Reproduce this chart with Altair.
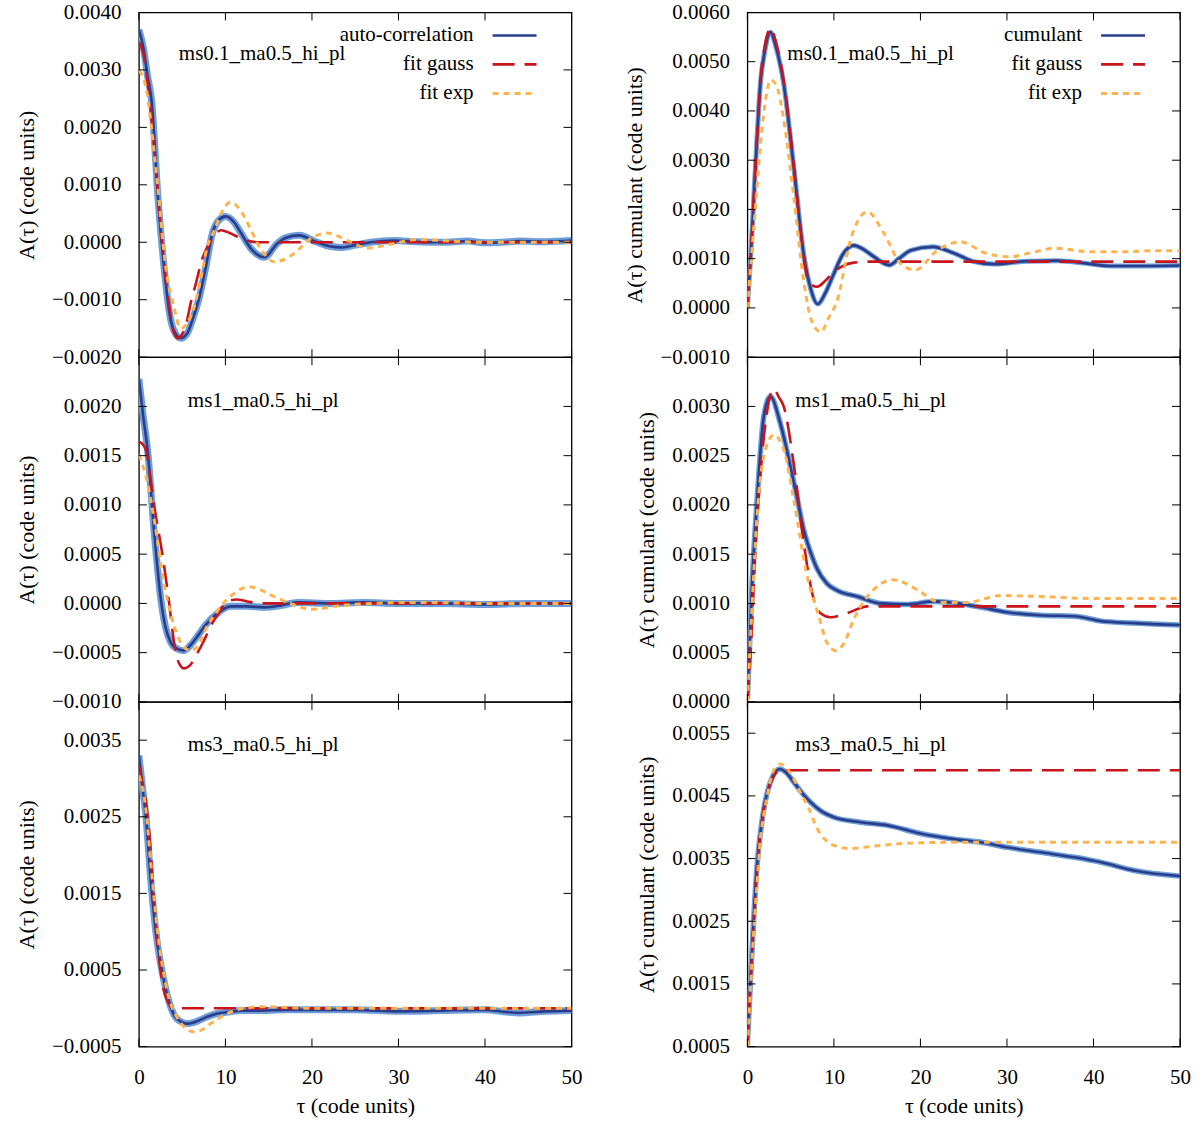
import altair as alt
import pandas as pd

FONT = "Liberation Serif"
FS = 21
DARK = "#2a3d8c"
LIGHT = "#6e9fd8"
RED = "#c9141b"
ORANGE = "#fdb450"

X_TICKS = [0, 10, 20, 30, 40, 50]

# ---------------- top-left: ms0.1 auto-correlation ----------------
tl_data_t = [0, 0.5, 1, 1.46, 2.23, 3.1, 3.5, 4, 4.85, 5.6, 6.3, 7.0, 7.74, 8.5, 9.2, 10, 11, 11.8, 13, 14.5, 16, 17, 18.5, 20.6, 22, 23.5, 25, 26.8, 29.5, 32, 35, 38, 40, 42, 44, 47, 50]
tl_data_v = [0.0037, 0.0034, 0.0029, 0.00247, 0.00073, -0.00071, -0.0012, -0.00152, -0.00167, -0.00158, -0.0013, -0.00095, -0.00043, 0.00016, 0.00038, 0.00045, 0.00035, 0.00016, -0.00012, -0.00026, -0.00002, 0.00008, 0.00012, 0.0, -0.00007, -0.00009, -0.00005, 0.0, 0.00003, 0.00001, 0.0, 0.00002, -0.00001, 0.0, 0.00002, 0.00001, 0.00003]
tl_gauss_t = [0, 0.5, 1, 1.5, 2, 2.5, 3, 3.5, 4, 4.5, 5, 5.5, 6, 6.6, 7.3, 8.3, 9, 9.5, 10.5, 11.5, 12.5, 13.7, 20, 30, 40, 50]
tl_gauss_v = [0.00348, 0.0033, 0.0028, 0.0021, 0.0012, 0.0003, -0.0005, -0.0011, -0.00155, -0.00167, -0.0016, -0.0014, -0.00105, -0.00071, -0.0003, 0.00003, 0.00017, 0.00021, 0.00016, 0.00009, 0.00003, 0.0, 0.0, 0.0, 0.0, 0.0]
tl_exp_t = [0, 0.8, 1.96, 3.1, 4, 4.85, 5.6, 6.4, 7.2, 7.9, 8.7, 9.5, 10.6, 11.4, 12.2, 13, 13.7, 14.6, 15.6, 16.8, 17.9, 19.9, 21.8, 24.1, 26.4, 29.5, 32.2, 36, 40, 45, 50]
tl_exp_v = [0.00299, 0.0027, 0.0013, -0.00043, -0.0011, -0.0015, -0.0014, -0.00112, -0.0006, -0.00008, 0.0002, 0.0005, 0.0007, 0.00062, 0.00044, 0.0002, -0.00002, -0.00022, -0.00034, -0.0003, -0.0002, 0.00007, 0.00016, 0.00003, -0.0001, -0.00002, 0.00005, 0.00002, 0.0, 0.0, 0.0]

# ---------------- top-right: ms0.1 cumulant ----------------
tr_data_t = [0, 0.4, 0.73, 1.1, 1.5, 2, 2.66, 3.3, 4.2, 5.36, 6.5, 7.3, 8.14, 9, 10, 11, 12.3, 13.5, 14.6, 16.4, 17.5, 18.9, 21.4, 23.9, 26.2, 28.5, 32.4, 35.9, 38.9, 42, 45.5, 50]
tr_data_v = [0.0, 0.0011, 0.00219, 0.0034, 0.00455, 0.0052, 0.0056, 0.0053, 0.00455, 0.00286, 0.0011, 0.0004, 0.00008, 0.0003, 0.0007, 0.00108, 0.00127, 0.00118, 0.00104, 0.00087, 0.001, 0.00117, 0.00124, 0.00111, 0.00094, 0.00089, 0.00095, 0.00096, 0.00091, 0.00085, 0.00085, 0.00086]
tr_gauss_t = [0, 0.4, 0.73, 1.1, 1.5, 2, 2.7, 3.3, 4.2, 5.36, 6.2, 6.9, 7.5, 8.07, 9, 10, 11, 12.3, 14, 20, 30, 40, 50]
tr_gauss_v = [0.0, 0.0011, 0.0022, 0.0034, 0.0046, 0.0053, 0.00568, 0.0054, 0.0046, 0.0029, 0.0015, 0.00063, 0.00046, 0.00043, 0.00055, 0.00073, 0.00085, 0.00092, 0.00094, 0.00094, 0.00094, 0.00094, 0.00094]
tr_exp_t = [0, 0.5, 1, 1.5, 2, 2.7, 3.4, 4.2, 5.4, 6.5, 7.5, 8.5, 9.4, 10.4, 11.9, 13.85, 15.8, 17.7, 19.4, 21.95, 24.65, 27.7, 30.4, 33, 35.5, 39.7, 43.5, 47, 50]
tr_exp_v = [0.0, 0.0011, 0.0022, 0.0033, 0.0041, 0.00463, 0.0045, 0.00382, 0.0022, 0.00056, -0.0003, -0.00049, -0.0002, 0.00016, 0.00137, 0.00195, 0.00151, 0.0009, 0.00077, 0.00117, 0.00134, 0.0011, 0.00104, 0.00113, 0.00121, 0.00114, 0.00114, 0.00116, 0.00116]

# ---------------- middle-left: ms1 auto-correlation ----------------
ml_data_t = [0, 0.5, 1, 1.77, 2.54, 3.1, 3.7, 4.4, 5.2, 6, 6.8, 7.7, 8.7, 10.6, 12.5, 14.5, 16.5, 18.3, 22.2, 26, 30, 35, 40, 45, 50]
ml_data_v = [0.00228, 0.0019, 0.00156, 0.00072, 0.00004, -0.00025, -0.0004, -0.00046, -0.00048, -0.00042, -0.00033, -0.00022, -0.00013, -0.00003, -0.00003, -0.00004, -0.00002, 0.00001, 0.0, 0.00001, 0.0, 0.0, -0.00001, 0.0, 0.0]
ml_gauss_t = [0, 0.4, 0.8, 1.77, 2.92, 3.5, 4.07, 4.6, 5.2, 5.9, 6.6, 7.4, 8.3, 9.2, 10.2, 11.3, 12.5, 14, 20, 30, 40, 50]
ml_gauss_v = [0.00164, 0.00162, 0.00156, 0.00099, 0.00038, 0.0, -0.0004, -0.0006, -0.00066, -0.00063, -0.00053, -0.0004, -0.00023, -0.0001, 0.00002, 0.00004, 0.00002, 0.0, 0.0, 0.0, 0.0, 0.0]
ml_exp_t = [0, 1, 1.77, 2.9, 4.07, 5, 6, 6.9, 7.9, 8.9, 9.85, 11, 12.7, 14, 15.6, 17.5, 19.9, 23.4, 27, 32, 40, 50]
ml_exp_v = [0.00151, 0.00122, 0.00085, 0.00021, -0.00023, -0.00042, -0.00048, -0.00042, -0.00023, -0.0001, 0.00001, 0.0001, 0.00017, 0.00014, 0.00007, 0.0, -0.00006, -0.00002, 0.0, 0.00001, 0.0, 0.0]

# ---------------- middle-right: ms1 cumulant ----------------
mr_data_t = [0, 0.54, 1.12, 1.9, 2.66, 3.8, 4.98, 5.8, 6.5, 7.3, 8.06, 9.2, 10.4, 12.7, 15.4, 18.5, 21.6, 24.3, 27, 30, 33.9, 37.8, 40.9, 44.7, 50]
mr_data_v = [0.00003, 0.0012, 0.00205, 0.0029, 0.0031, 0.00283, 0.00239, 0.00205, 0.00175, 0.00152, 0.00135, 0.0012, 0.00113, 0.00107, 0.001, 0.00099, 0.00102, 0.001, 0.00096, 0.00091, 0.00088, 0.00087, 0.00082, 0.0008, 0.00078]
mr_gauss_t = [0, 0.4, 0.93, 1.5, 2.2, 3.04, 3.6, 4.2, 5.4, 6.5, 7.5, 8.45, 9.6, 11.5, 13.9, 20, 30, 40, 50]
mr_gauss_v = [0.0, 0.00054, 0.00155, 0.0023, 0.0029, 0.00318, 0.0031, 0.003, 0.00239, 0.00162, 0.0011, 0.0009, 0.00086, 0.0009, 0.00097, 0.00097, 0.00097, 0.00097, 0.00097]
mr_exp_t = [0, 0.5, 1.12, 2.08, 3.04, 4.2, 5.36, 6.9, 8.26, 9.2, 10.2, 11.2, 12.3, 14.6, 16.9, 19.6, 22.3, 25.4, 29.3, 33.9, 39.7, 50]
mr_exp_v = [0.0, 0.0009, 0.00189, 0.00256, 0.00271, 0.00256, 0.00205, 0.00128, 0.00087, 0.0006, 0.00052, 0.0006, 0.00084, 0.00114, 0.00124, 0.00114, 0.00101, 0.00101, 0.00108, 0.00107, 0.00105, 0.00105]

# ---------------- bottom-left: ms3 auto-correlation ----------------
bl_data_t = [0, 0.4, 0.8, 1.39, 1.96, 2.93, 4.07, 4.8, 5.6, 6.7, 7.9, 9, 10.2, 12, 13.7, 17, 20, 25, 30, 35, 40, 42.5, 44, 47, 50]
bl_data_v = [0.0033, 0.0029, 0.00252, 0.00165, 0.001, 0.00034, -0.00009, -0.00017, -0.0002, -0.00017, -0.00011, -0.00007, -0.00005, -0.00003, -0.00003, -0.00002, -0.00002, -0.00002, -0.00004, -0.00003, -0.00002, -0.00005, -0.00006, -0.00004, -0.00003]
bl_gauss_t = [0, 0.4, 0.8, 1.19, 1.96, 2.5, 2.93, 3.3, 3.7, 4.5, 10, 20, 30, 40, 50]
bl_gauss_v = [0.00317, 0.00295, 0.0027, 0.0023, 0.00108, 0.0005, 0.00021, 0.0001, 0.00002, 0.0, 0.0, 0.0, 0.0, 0.0, 0.0]
bl_exp_t = [0, 0.8, 1.39, 2.16, 3.3, 4.47, 5.4, 6.4, 7.3, 8.3, 10.2, 12.1, 14.5, 20, 30, 40, 50]
bl_exp_v = [0.00304, 0.0026, 0.00187, 0.001, 0.00021, -0.00013, -0.00026, -0.00031, -0.00028, -0.0002, -0.00007, 0.0, 0.00002, 0.0, 0.0, 0.0, 0.0]

# ---------------- bottom-right: ms3 cumulant ----------------
br_data_t = [0, 0.35, 0.73, 1.12, 1.5, 1.9, 2.66, 3.74, 4.5, 5.36, 6.3, 7.3, 8.5, 10, 13.1, 16.2, 20, 23.9, 27, 30, 33.9, 37.8, 40.9, 44.7, 50]
br_data_v = [0.00052, 0.00153, 0.00254, 0.00339, 0.0039, 0.00429, 0.00472, 0.00493, 0.00487, 0.00472, 0.00455, 0.0044, 0.00426, 0.00416, 0.00408, 0.00403, 0.0039, 0.00381, 0.00376, 0.00368, 0.0036, 0.00352, 0.00344, 0.00331, 0.00322]
br_gauss_t = [0, 0.35, 0.73, 1.12, 1.5, 1.9, 2.66, 3.2, 3.8, 10, 20, 30, 40, 50]
br_gauss_v = [0.0005, 0.0015, 0.0025, 0.0034, 0.0039, 0.0043, 0.0047, 0.00485, 0.00491, 0.00491, 0.00491, 0.00491, 0.00491, 0.00491]
br_exp_t = [0, 0.35, 0.73, 1.12, 1.5, 1.9, 2.3, 3, 3.8, 4.8, 6.1, 7.1, 8.06, 9, 10, 11.9, 13.5, 15.4, 19.3, 25, 30, 40, 50]
br_exp_v = [0.0005, 0.0014, 0.00233, 0.0031, 0.00381, 0.0042, 0.0045, 0.0049, 0.00501, 0.0049, 0.00456, 0.0043, 0.00398, 0.0038, 0.00371, 0.00366, 0.00368, 0.00371, 0.00375, 0.00376, 0.00376, 0.00376, 0.00376]

# axis domains and labelled ticks
tl_dom, tl_ticks = [-0.002, 0.004], [-0.002, -0.001, 0.0, 0.001, 0.002, 0.003, 0.004]
tr_dom, tr_ticks = [-0.001, 0.006], [-0.001, 0.0, 0.001, 0.002, 0.003, 0.004, 0.005, 0.006]
ml_dom, ml_ticks = [-0.001, 0.0025], [-0.001, -0.0005, 0.0, 0.0005, 0.001, 0.0015, 0.002]
mr_dom, mr_ticks = [0.0, 0.0035], [0.0, 0.0005, 0.001, 0.0015, 0.002, 0.0025, 0.003]
bl_dom, bl_ticks = [-0.0005, 0.004], [-0.0005, 0.0005, 0.0015, 0.0025, 0.0035]
br_dom, br_ticks = [0.0005, 0.006], [0.0005, 0.0015, 0.0025, 0.0035, 0.0045, 0.0055]

LEGEND_LEFT = ["auto-correlation", "fit gauss", "fit exp"]
LEGEND_RIGHT = ["cumulant", "fit gauss", "fit exp"]
TITLE_LEFT = "A(τ) (code units)"
TITLE_RIGHT = "A(τ) cumulant (code units)"
X_TITLE = "τ (code units)"

W, H = 433, 345
TICK = 8
GAUSS_DASH = [22, 10]
EXP_DASH = [6, 5]


def df(t, v):
    return pd.DataFrame({"t": t, "v": v})


def panel(data, gauss, exp, ydom, yticks, ytitle, label, label_xy, band_w, legend=None, bottom=False):
    xs = alt.Scale(domain=[0, 50], nice=False, zero=False)
    ys = alt.Scale(domain=ydom, nice=False, zero=False)
    if bottom:
        xaxis = alt.Axis(values=X_TICKS, format="d", title=X_TITLE, ticks=False, tickSize=0,
                         domain=False, grid=False, labelPadding=20, titlePadding=8,
                         labelFlush=False, labelOverlap=False)
    else:
        xaxis = alt.Axis(values=X_TICKS, labels=False, title=None, ticks=False, tickSize=0,
                         domain=False, grid=False)
    yaxis = alt.Axis(values=yticks, format=".4f", title=ytitle, ticks=False, tickSize=0,
                     domain=False, grid=False, labelPadding=18, titlePadding=13,
                     labelFlush=False, labelOverlap=False, labelBound=False)

    X = alt.X("t:Q", scale=xs, axis=xaxis)
    Y = alt.Y("v:Q", scale=ys, axis=yaxis)

    band = alt.Chart(df(*data)).mark_line(color=LIGHT, strokeWidth=band_w, interpolate="monotone", clip=True).encode(x=X, y=Y)
    line = alt.Chart(df(*data)).mark_line(color=DARK, strokeWidth=2.6, interpolate="monotone", clip=True).encode(x=X, y=Y)
    gl = alt.Chart(df(*gauss)).mark_line(color=RED, strokeWidth=2.6, strokeDash=GAUSS_DASH, interpolate="monotone", clip=True).encode(x=X, y=Y)
    el = alt.Chart(df(*exp)).mark_line(color=ORANGE, strokeWidth=3, strokeDash=EXP_DASH, interpolate="monotone", clip=True).encode(x=X, y=Y)

    xt = pd.DataFrame({"t": X_TICKS})
    yt = pd.DataFrame({"v": yticks})
    tick_b = alt.Chart(xt).mark_rule(color="black", strokeWidth=1).encode(x=X, y=alt.value(H), y2=alt.value(H - TICK))
    tick_t = alt.Chart(xt).mark_rule(color="black", strokeWidth=1).encode(x=X, y=alt.value(0), y2=alt.value(TICK))
    tick_l = alt.Chart(yt).mark_rule(color="black", strokeWidth=1).encode(y=Y, x=alt.value(0), x2=alt.value(TICK))
    tick_r = alt.Chart(yt).mark_rule(color="black", strokeWidth=1).encode(y=Y, x=alt.value(W), x2=alt.value(W - TICK))

    lab = alt.Chart(pd.DataFrame({"label": [label]})).mark_text(
        font=FONT, fontSize=FS, align="left", baseline="middle", color="black").encode(
        text="label:N", x=alt.value(label_xy[0]), y=alt.value(label_xy[1]))

    layers = [band, line, gl, el, tick_b, tick_t, tick_l, tick_r, lab]

    if legend is not None:
        styles = [dict(color=DARK, strokeWidth=2.6),
                  dict(color=RED, strokeWidth=2.6, strokeDash=GAUSS_DASH),
                  dict(color=ORANGE, strokeWidth=3, strokeDash=EXP_DASH)]
        ys_leg = [23, 52, 81]
        for name, st, yy in zip(legend, styles, ys_leg):
            layers.append(alt.Chart(pd.DataFrame({"label": [name]})).mark_text(
                font=FONT, fontSize=FS, align="right", baseline="middle", color="black").encode(
                text="label:N", x=alt.value(335), y=alt.value(yy)))
            layers.append(alt.Chart(pd.DataFrame({"label": [name]})).mark_rule(**st).encode(
                x=alt.value(354), x2=alt.value(398), y=alt.value(yy)))

    return alt.layer(*layers).properties(width=W, height=H)


tl = panel((tl_data_t, tl_data_v), (tl_gauss_t, tl_gauss_v), (tl_exp_t, tl_exp_v), tl_dom, tl_ticks,
           TITLE_LEFT, "ms0.1_ma0.5_hi_pl", (40, 42), 7, legend=LEGEND_LEFT)
tr = panel((tr_data_t, tr_data_v), (tr_gauss_t, tr_gauss_v), (tr_exp_t, tr_exp_v), tr_dom, tr_ticks,
           TITLE_RIGHT, "ms0.1_ma0.5_hi_pl", (40, 42), 5, legend=LEGEND_RIGHT)
ml = panel((ml_data_t, ml_data_v), (ml_gauss_t, ml_gauss_v), (ml_exp_t, ml_exp_v), ml_dom, ml_ticks,
           TITLE_LEFT, "ms1_ma0.5_hi_pl", (49, 44), 7)
mr = panel((mr_data_t, mr_data_v), (mr_gauss_t, mr_gauss_v), (mr_exp_t, mr_exp_v), mr_dom, mr_ticks,
           TITLE_RIGHT, "ms1_ma0.5_hi_pl", (48, 44), 5.5)
bl = panel((bl_data_t, bl_data_v), (bl_gauss_t, bl_gauss_v), (bl_exp_t, bl_exp_v), bl_dom, bl_ticks,
           TITLE_LEFT, "ms3_ma0.5_hi_pl", (49, 43), 7, bottom=True)
br = panel((br_data_t, br_data_v), (br_gauss_t, br_gauss_v), (br_exp_t, br_exp_v), br_dom, br_ticks,
           TITLE_RIGHT, "ms3_ma0.5_hi_pl", (48, 43), 5.5, bottom=True)

chart = alt.concat(tl, tr, ml, mr, bl, br, columns=2, bounds="flush",
                   spacing={"row": 0, "column": 176}).properties(
    padding={"left": 14, "top": 0, "right": 10, "bottom": 5}
).configure_view(stroke="black", strokeWidth=1.3).configure_axis(
    labelFont=FONT, titleFont=FONT, labelFontSize=FS, titleFontSize=22,
    titleFontWeight="normal", labelColor="black", titleColor="black"
)

chart.save("out.html", embed_options={"renderer": "svg", "actions": False})
